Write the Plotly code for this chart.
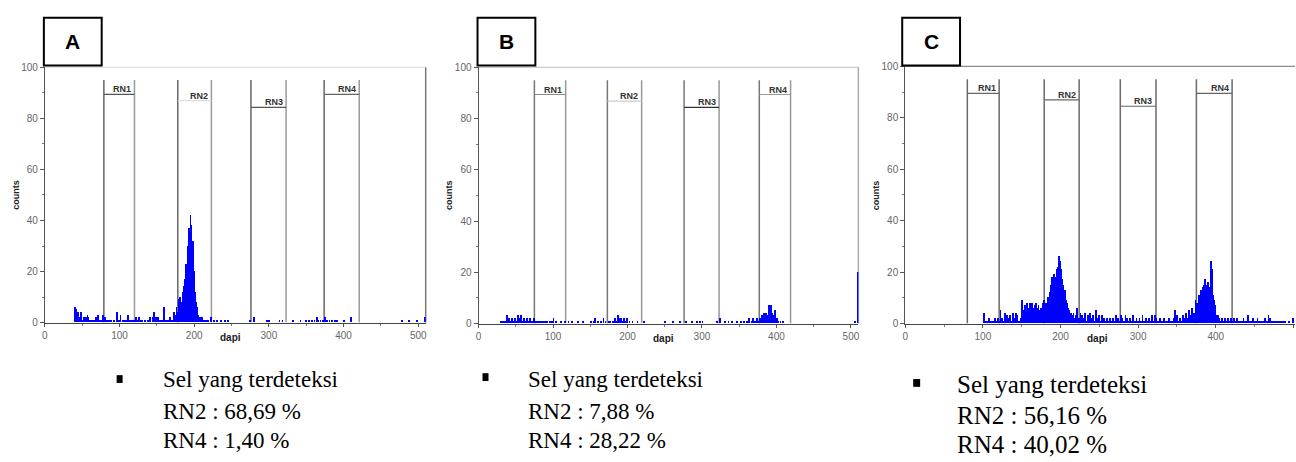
import plotly.graph_objects as go

# ---------------- DATA ----------------
PANELS = ["A", "B", "C"]
REGION_NAMES = ["RN1", "RN2", "RN3", "RN4"]

# region gates (dapi) per panel
A_RN_LEFT = [79, 178, 276, 374]
A_RN_RIGHT = [120, 223, 323, 421]
A_RN_BAR = [89.4, 87.0, 84.3, 89.4]

B_RN_LEFT = [75, 173, 276, 377]
B_RN_RIGHT = [117, 219, 323, 419]
B_RN_BAR = [89.4, 86.8, 84.4, 89.4]

C_RN_LEFT = [80, 179, 277, 375]
C_RN_RIGHT = [121, 224, 323, 421]
C_RN_BAR = [89.5, 87.0, 84.5, 89.5]

GATE_TOP = 95

# histogram A (dapi channel, counts)
A_dapi = [40, 41, 42, 43, 44, 46, 47, 48, 50, 52, 53, 55, 56, 57, 58, 60, 62, 64, 67, 68, 70, 71, 72, 75, 78,
          80, 82, 84, 86, 88, 92, 96, 97, 99, 101, 104, 106, 108, 110, 111, 112, 114, 116, 118, 120, 122, 124,
          126, 128, 130, 134, 138, 141, 144, 146, 147, 148, 150, 151, 153, 155, 157, 159, 161, 163, 165, 167,
          169, 170, 172, 173, 174,
          175, 176, 177, 178, 179, 180, 181, 182, 183, 184, 185, 186, 187, 188, 189, 190, 191, 192, 193, 194,
          195, 196, 197, 198, 199, 200, 201, 202, 203, 204, 205, 206, 207, 208, 209,
          210, 212, 214, 216, 218, 222, 226, 230, 236, 241, 245, 275, 280, 297, 300, 314, 318, 332, 342, 350,
          354, 358, 361, 364, 366, 369, 372, 375, 378, 381, 384, 388, 391, 400, 410, 478, 487, 498, 509]
A_counts = [6, 3, 5, 2, 4, 1, 2, 4, 1, 2, 2, 2, 2, 3, 2, 1, 1, 1, 1, 2, 2, 3, 1, 1, 3,
            2, 1, 1, 1, 1, 1, 4, 2, 1, 3, 1, 1, 1, 1, 3, 2, 1, 1, 1, 1, 2, 1,
            2, 1, 1, 1, 1, 2, 2, 4, 2, 1, 2, 2, 1, 1, 1, 6, 1, 1, 1, 2,
            1, 1, 2, 4, 3,
            3, 6, 4, 3, 9, 5, 10, 6, 8, 12, 11, 14, 17, 16, 23, 20, 23, 30, 37, 35,
            42, 38, 32, 32, 28, 20, 12, 8, 5, 6, 3, 2, 1, 2, 1,
            2, 1, 1, 1, 1, 2, 1, 1, 1, 1, 1, 1, 2, 1, 1, 1, 1, 1, 1, 1,
            1, 1, 1, 2, 1, 1, 1, 2, 1, 1, 1, 1, 1, 1, 2, 1, 1, 1, 2]

# histogram B
B_dapi = [30, 32, 34, 36, 38, 40, 42, 44, 46, 48, 50, 52, 54, 56, 58, 60, 62, 64, 66, 68, 70, 72, 74, 76, 78,
          80, 82, 84, 86, 88, 90, 92, 95, 98, 100, 103, 110, 115, 120, 125, 133, 140, 150, 154, 156, 160, 164,
          167, 170, 174, 176, 180, 183, 185, 187, 189, 191, 193, 195, 197, 199, 202, 206, 213, 222, 250, 260,
          270, 278, 286, 293, 297, 300, 320, 324, 330, 335, 340, 346, 352, 356, 360, 363, 366, 368, 371, 373,
          375, 377, 379, 380, 381, 382, 383, 384, 385, 386, 387, 388, 389, 390, 391, 392, 393, 394, 395, 396,
          397, 398, 399, 400, 402, 405, 408, 505, 509]
B_counts = [1, 1, 1, 1, 3, 2, 1, 2, 1, 2, 1, 3, 2, 3, 1, 2, 1, 2, 1, 2, 1, 1, 2, 1, 1,
            1, 1, 1, 1, 1, 1, 1, 1, 1, 2, 1, 1, 1, 1, 1, 1, 1, 1, 1, 2, 1, 1,
            2, 1, 1, 1, 1, 2, 1, 3, 2, 2, 1, 2, 1, 2, 1, 1, 1, 1, 1, 1,
            1, 1, 1, 1, 1, 1, 1, 2, 1, 1, 1, 1, 1, 1, 1, 2, 1, 2, 1, 2,
            1, 2, 1, 3, 2, 4, 2, 4, 3, 4, 2, 3, 7, 3, 4, 7, 3, 4, 2, 3,
            5, 2, 1, 2, 1, 1, 1, 1, 20]

# histogram C
C_dapi = [102, 104, 106, 108, 110, 112, 114, 116, 118, 120, 121, 123, 125, 127, 129, 131, 133, 135, 137, 139,
          141, 143, 145, 147, 149,
          150, 151, 152, 153, 154, 155, 156, 157, 158, 159, 160, 161, 162, 163, 164, 165, 166, 167, 168, 169,
          170, 171, 172, 173, 174, 175, 176, 177, 178,
          179, 180, 181, 182, 183, 184, 185, 186, 187, 188, 189, 190, 191, 192, 193, 194, 195, 196, 197, 198,
          199, 200, 201, 202, 203, 204, 205, 206, 207, 208, 209, 210, 211, 212, 213, 214, 215, 216, 217,
          218, 220, 222, 224, 226, 228, 230, 232, 234, 236, 238, 240, 242, 244, 246, 248, 250, 252, 254, 256,
          258, 260, 262, 264, 266, 268, 270, 272, 274, 276, 278, 280, 282, 284, 286, 288, 290, 292, 294, 296,
          298, 300, 302, 304, 306, 308, 310, 312, 314, 316, 318, 320, 322, 324, 326, 328, 330, 332, 334, 336,
          338, 340, 342, 344, 346, 348, 350, 352, 354, 356, 358, 360, 362, 364, 366, 368, 370, 372,
          374, 375, 376, 377, 378, 379, 380, 381, 382, 383, 384, 385, 386, 387, 388, 389, 390, 391, 392, 393,
          394, 395, 396, 397, 398, 399, 400, 401, 402, 403, 404,
          406, 408, 410, 412, 414, 416, 418, 420, 422, 424, 426, 428, 430, 432, 434, 436, 438, 440, 442, 444,
          446, 448, 450, 452, 454, 456, 458, 460, 462, 464, 466, 468, 470, 472, 474, 476, 478, 480, 482, 484,
          486, 488, 490, 495, 500]
C_counts = [4, 1, 1, 2, 1, 1, 1, 2, 1, 2, 1, 5, 2, 1, 4, 3, 2, 3, 1, 4,
            2, 4, 3, 1, 2,
            6, 9, 4, 5, 3, 7, 4, 8, 5, 3, 6, 8, 4, 5, 8, 6, 3, 7, 5, 8,
            6, 4, 7, 5, 4, 6, 3, 8, 6,
            9, 7, 6, 8, 7, 10, 9, 12, 11, 15, 18, 14, 17, 19, 16, 18, 21, 20, 22, 26,
            21, 24, 21, 17, 15, 13, 11, 13, 9, 7, 8, 6, 5, 4, 3, 4, 3, 2, 4,
            2, 3, 6, 2, 4, 3, 2, 4, 1, 3, 4, 2, 3, 1, 5, 2, 3, 1, 3, 2,
            1, 2, 1, 2, 1, 2, 1, 3, 2, 1, 3, 2, 1, 3, 2, 1, 2, 1, 3, 1,
            2, 1, 2, 1, 3, 1, 2, 1, 2, 1, 3, 1, 3, 2, 1, 2, 1, 1, 2, 1,
            1, 2, 1, 1, 2, 5, 3, 1, 2, 1, 3, 2, 4, 2, 5, 3, 6, 4,
            9, 7, 8, 6, 9, 11, 10, 13, 12, 11, 14, 15, 17, 16, 14, 15, 16, 13, 14, 12,
            24, 21, 13, 11, 9, 7, 5, 3, 2, 3, 2,
            1, 2, 1, 2, 1, 2, 1, 2, 1, 2, 1, 2, 1, 1, 1, 2, 1, 1, 3, 1,
            1, 2, 1, 1, 2, 1, 1, 1, 1, 2, 1, 3, 2, 1, 1, 1, 1, 1, 1, 1,
            1, 1, 1, 1, 2]

# summary text
TEXT_HEADER = "Sel yang terdeteksi"
A_TEXT = ["RN2 : 68,69 %", "RN4 : 1,40 %"]
B_TEXT = ["RN2 : 7,88 %", "RN4 : 28,22 %"]
C_TEXT = ["RN2 : 56,16 %", "RN4 : 40,02 %"]

Y_TICKS = [0, 20, 40, 60, 80, 100]
X_TICKS = [0, 100, 200, 300, 400, 500]

# ---------------- LAYOUT ----------------
W, H = 1296, 462
def px(x):
    return x / W
def py(y):
    return 1 - y / H

panel_cfg = [
    dict(name="A", dapi=A_dapi, counts=A_counts, left=A_RN_LEFT, right=A_RN_RIGHT, bar=A_RN_BAR,
         text=A_TEXT, x0=42, x1=424, y0=63, y1=325, xmax=510,
         gate_l="#666666", gate_r="#9a9a9a", bar_col=["#555555", "#dddddd", "#555555", "#666666"],
         top_col="#e2e2e2", right_col="#777777",
         box=(41, 12, 99, 61), bullet=(114, 379, 120, 387), tx=158, ty=[383, 416, 446], tsize=23),
    dict(name="B", dapi=B_dapi, counts=B_counts, left=B_RN_LEFT, right=B_RN_RIGHT, bar=B_RN_BAR,
         text=B_TEXT, x0=477, x1=858, y0=63, y1=326, xmax=510,
         gate_l="#777777", gate_r="#999999", bar_col=["#888888", "#cccccc", "#333333", "#999999"],
         top_col="#cccccc", right_col="#aaaaaa",
         box=(476, 12, 534, 61), bullet=(481, 377, 487, 385), tx=525, ty=[383, 416, 446], tsize=23),
    dict(name="C", dapi=C_dapi, counts=C_counts, left=C_RN_LEFT, right=C_RN_RIGHT, bar=C_RN_BAR,
         text=C_TEXT, x0=905, x1=1296, y0=62, y1=326, xmax=502,
         gate_l="#6a6a6a", gate_r="#6a6a6a", bar_col=["#666666", "#666666", "#666666", "#666666"],
         top_col="#8a8a8a", right_col=None,
         box=(902, 12, 960, 61), bullet=(913, 383, 920, 391), tx=955, ty=[389, 420, 450], tsize=25),
]

fig = go.Figure()
shapes = []
annotations = []
layout_axes = {}

tickfont = dict(family="Arial, Liberation Sans, sans-serif", size=10, color="#666666")

for i, p in enumerate(panel_cfg):
    n = "" if i == 0 else str(i + 1)
    xa, ya = "x" + n, "y" + n
    fig.add_trace(go.Bar(x=p["dapi"], y=p["counts"], width=1.0, xaxis=xa, yaxis=ya,
                         marker=dict(color="#0000ff", line=dict(width=0)), showlegend=False,
                         hoverinfo="x+y"))
    layout_axes["xaxis" + n] = dict(
        domain=[px(p["x0"]), px(p["x1"])], range=[0, p["xmax"]], anchor=ya,
        showgrid=False, zeroline=False, showline=True, linecolor="#444444", linewidth=1,
        tickvals=X_TICKS, ticks="outside", ticklen=3, tickcolor="#555555", tickfont=tickfont,
        minor=dict(dtick=50, ticks="outside", ticklen=2, tickcolor="#777777"),
        fixedrange=True)
    layout_axes["yaxis" + n] = dict(
        domain=[py(p["y1"]), py(p["y0"])], range=[0, 100], anchor=xa,
        showgrid=False, zeroline=False, showline=True, linecolor="#555555", linewidth=1,
        tickvals=Y_TICKS, ticks="outside", ticklen=4, tickcolor="#555555", tickfont=tickfont,
        minor=dict(dtick=10, ticks="outside", ticklen=2, tickcolor="#777777"),
        fixedrange=True)

    # frame top/right
    shapes.append(dict(type="line", xref=xa + " domain", yref=ya + " domain", x0=0, x1=1, y0=1, y1=1,
                       line=dict(color=p["top_col"], width=1.2), layer="below"))
    if p["right_col"]:
        shapes.append(dict(type="line", xref=xa + " domain", yref=ya + " domain", x0=1, x1=1, y0=0, y1=1,
                           line=dict(color=p["right_col"], width=1.5), layer="below"))

    # gates
    for k in range(4):
        l, r, b = p["left"][k], p["right"][k], p["bar"][k]
        shapes.append(dict(type="line", xref=xa, yref=ya, x0=l, x1=l, y0=0, y1=GATE_TOP,
                           line=dict(color=p["gate_l"], width=1.5), layer="below"))
        shapes.append(dict(type="line", xref=xa, yref=ya, x0=r, x1=r, y0=0, y1=GATE_TOP,
                           line=dict(color=p["gate_r"], width=1.5), layer="below"))
        shapes.append(dict(type="line", xref=xa, yref=ya, x0=l, x1=r, y0=b, y1=b,
                           line=dict(color=p["bar_col"][k], width=1.2), layer="below"))
        annotations.append(dict(xref=xa, yref=ya, x=r - 2, y=b, xanchor="right", yanchor="bottom",
                                text="<b>" + REGION_NAMES[k] + "</b>", showarrow=False,
                                font=dict(family="Arial, Liberation Sans, sans-serif", size=9, color="#333333"),
                                yshift=-2))

    # axis titles
    annotations.append(dict(xref=xa + " domain", yref=ya + " domain", x=0, y=0.5, xshift=-29,
                            xanchor="center", yanchor="middle",
                            text="<b>counts</b>", textangle=-90, showarrow=False,
                            font=dict(family="Arial, Liberation Sans, sans-serif", size=9, color="#222222")))
    annotations.append(dict(xref=xa, yref=ya + " domain", x=248, y=0, yshift=-15,
                            text="<b>dapi</b>", showarrow=False, xanchor="center", yanchor="middle",
                            font=dict(family="Arial, Liberation Sans, sans-serif", size=10, color="#222222")))

    # panel label box
    bx0, by0, bx1, by1 = p["box"]
    shapes.append(dict(type="rect", xref="paper", yref="paper", x0=px(bx0), x1=px(bx1), y0=py(by1), y1=py(by0),
                       line=dict(color="#000000", width=2), fillcolor="#ffffff", layer="above"))
    annotations.append(dict(xref="paper", yref="paper", x=px((bx0 + bx1) / 2), y=py((by0 + by1) / 2),
                            text="<b>" + p["name"] + "</b>", showarrow=False, xanchor="center", yanchor="middle",
                            font=dict(family="Arial, Liberation Sans, sans-serif", size=21, color="#000000")))

    # bullet + text
    ux0, uy0, ux1, uy1 = p["bullet"]
    shapes.append(dict(type="rect", xref="paper", yref="paper", x0=px(ux0), x1=px(ux1), y0=py(uy1), y1=py(uy0),
                       line=dict(width=0), fillcolor="#000000"))
    lines = [TEXT_HEADER] + p["text"]
    for j, t in enumerate(lines):
        annotations.append(dict(xref="paper", yref="paper", x=px(p["tx"]), y=py(p["ty"][j]),
                                text=t, showarrow=False, xanchor="left", yanchor="middle",
                                font=dict(family="Liberation Serif, Times New Roman, serif",
                                          size=p["tsize"], color="#000000")))

fig.update_layout(
    width=W, height=H, autosize=False,
    margin=dict(l=0, r=0, t=0, b=0),
    paper_bgcolor="#ffffff", plot_bgcolor="#ffffff",
    shapes=shapes, annotations=annotations, bargap=0,
    **layout_axes,
)

fig.write_html("out.html", config={"displayModeBar": False},
               post_script="document.body.style.margin='0';document.body.style.overflow='hidden';")
